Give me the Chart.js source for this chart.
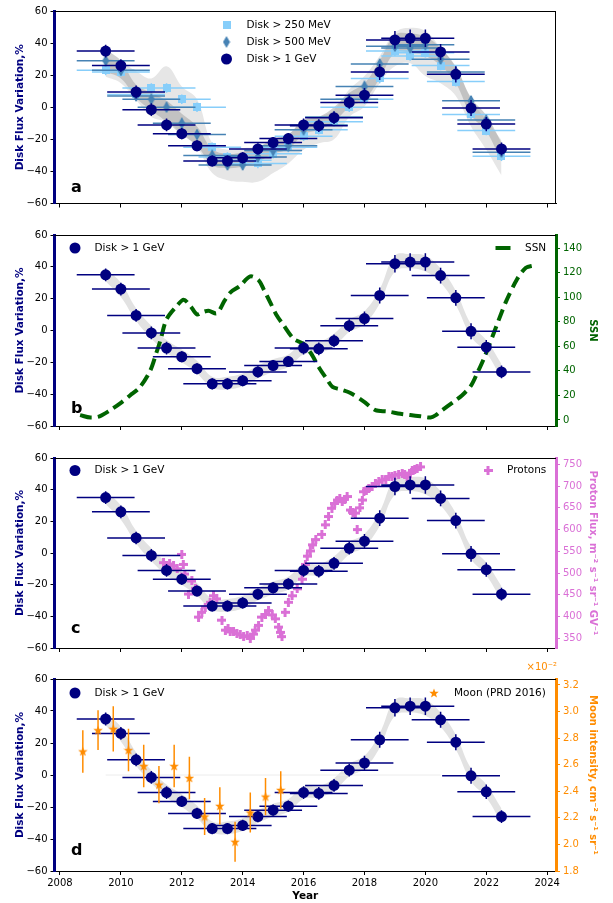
<!DOCTYPE html>
<html>
<head>
<meta charset="utf-8">
<script src="https://cdn.jsdelivr.net/npm/chart.js@4.4.0/dist/chart.umd.min.js"></script>
<style>
  html, body { margin: 0; padding: 0; background: #fff; }
  #wrap { position: relative; width: 613px; height: 903px; }
  canvas { position: absolute; left: 0; }
</style>
</head>
<body>
<div id="wrap">
  <canvas id="chartA" width="613" height="226" style="top:0px"></canvas>
  <canvas id="chartB" width="613" height="223" style="top:226px"></canvas>
  <canvas id="chartC" width="613" height="211" style="top:449px"></canvas>
  <canvas id="chartD" width="613" height="243" style="top:660px"></canvas>
</div>
<script>
// half-year bins, disk flux variation in %
var years = [2009.5, 2010, 2010.5, 2011, 2011.5, 2012, 2012.5, 2013, 2013.5, 2014, 2014.5, 2015, 2015.5, 2016, 2016.5, 2017, 2017.5, 2018, 2018.5, 2019, 2019.5, 2020, 2020.5, 2021, 2021.5, 2022, 2022.5];
var disk1GeV = [35, 26, 9.5, -1.5, -11, -16.5, -24, -33.5, -33.5, -31.5, -26, -22, -19.5, -11, -11.5, -6.5, 3, 7.5, 22, 42, 43, 43, 34.5, 20.5, -0.5, -10.5, -26];
var disk1GeVErr = [4, 4, 4, 4, 4, 3.5, 3.5, 3.5, 3.5, 3.5, 3.5, 3.5, 3.5, 4, 4, 4, 4, 4.5, 5, 5.5, 5.5, 5.5, 5, 5, 5, 4.5, 4];
var disk500MeV = [29, 23, 7, 5, 0, -10, -17, -30, -36, -36, -31, -27, -24, -14, -11, -6, 5, 13, 27, 38, 37, 39, 30, 22, 4, -8, -28];
var disk250MeV = [23, 22, 8, 12, 12, 5, 0, -25, -31, -33, -35, -29, -25, -18, -14, -9, 0, 5, 18, 35, 32, 34, 26, 16, -4.5, -14.5, -30.5];
var diskLowErr = [3, 3, 3, 3, 3, 3, 3, 3, 3, 3, 3, 3, 3, 3, 3, 3, 3, 3, 3, 3, 3, 3, 3, 3, 3, 3, 3];
var binHalfWidth = 0.95;

// shaded model bands
var bandALightLow = [19, 15, 4.5, -6, -9, -16, -25, -41, -45.5, -46.5, -46.5, -41, -35, -26.5, -22.5, -20, -6, 0.5, 15, 25.5, 27.5, 19.5, 15, 7, -12, -26.5, -42.5];
var bandALightHigh = [31, 28, 22.5, 18, 25.5, 13, 5, -22.5, -26.5, -25.5, -24.5, -20.5, -17, -8, -6, -1.5, 11, 19.5, 32, 46.5, 49.5, 47.5, 37, 25.5, 5, -8, -20.5];
var bandADarkLow = [22, 18, 6, -2, -9, -17, -24, -36, -38, -37, -34, -29, -26, -17, -14, -9, 0, 5, 18, 34, 34, 32, 26, 15, -5, -15, -34];
var bandADarkHigh = [36, 29, 14, 9, 4, -4, -12, -26, -29, -28, -25, -20, -17, -8, -6, 0, 9, 15, 29, 45, 46, 44, 37, 25, 6, -5, -22];
var bandLow = [31, 21, 6, -5, -14, -20, -27, -36, -37, -35, -30, -26, -23, -15, -14, -10, -1, 4, 17, 37, 39, 37, 30, 16, -4, -14, -30];
var bandHigh = [39, 30, 14, 3, -6, -12, -19, -29, -29, -27, -22, -18, -15, -7, -7, -2, 7, 12, 26, 47, 48, 47, 39, 25, 4, -6, -21];

// sunspot number
var ssnYears = [2008.66, 2009.0, 2009.3, 2009.65, 2010.0, 2010.3, 2010.6, 2010.96, 2011.17, 2011.3, 2011.5, 2011.84, 2012.06, 2012.28, 2012.5, 2012.7, 2012.88, 2013.15, 2013.4, 2013.6, 2013.9, 2014.25, 2014.52, 2014.7, 2014.9, 2015.1, 2015.35, 2015.68, 2016.0, 2016.25, 2016.5, 2016.77, 2016.95, 2017.2, 2017.54, 2017.98, 2018.36, 2018.75, 2019.18, 2019.5, 2019.84, 2020.17, 2020.35, 2020.5, 2020.94, 2021.2, 2021.5, 2021.7, 2021.92, 2022.25, 2022.64, 2023.02, 2023.3, 2023.57];
var ssnValues = [4, 2, 3, 8, 14, 20, 26, 40, 55, 65, 82, 93, 98, 93, 86, 88, 89, 87, 97, 104, 109, 117, 114, 106, 96, 86, 77, 66, 62, 54, 43, 33, 27, 25, 22, 15, 8, 7, 5, 4, 3, 2, 4, 7, 15, 20, 28, 38, 50, 71, 96, 115, 124, 126];

// proton flux, m^-2 s^-1 sr^-1 GV^-1
var protonYears = [2011.4, 2011.5, 2011.6, 2011.73, 2011.85, 2012.0, 2012.05, 2012.1, 2012.22, 2012.33, 2012.45, 2012.55, 2012.66, 2012.77, 2012.93, 2013.04, 2013.15, 2013.32, 2013.43, 2013.52, 2013.59, 2013.7, 2013.81, 2013.92, 2014.03, 2014.15, 2014.25, 2014.35, 2014.41, 2014.52, 2014.63, 2014.75, 2014.85, 2014.97, 2015.07, 2015.18, 2015.24, 2015.29, 2015.39, 2015.5, 2015.62, 2015.79, 2015.95, 2016.06, 2016.12, 2016.22, 2016.3, 2016.4, 2016.6, 2016.71, 2016.82, 2016.93, 2017.02, 2017.1, 2017.19, 2017.27, 2017.35, 2017.43, 2017.54, 2017.62, 2017.7, 2017.76, 2017.85, 2017.93, 2017.98, 2018.06, 2018.14, 2018.25, 2018.36, 2018.47, 2018.58, 2018.7, 2018.8, 2018.9, 2019.0, 2019.12, 2019.24, 2019.32, 2019.4, 2019.5, 2019.57, 2019.65, 2019.73, 2019.84];
var protonFlux = [524, 517, 521, 517, 510, 543, 520, 498, 452, 482, 465, 399, 410, 422, 433, 448, 441, 392, 369, 372, 365, 367, 361, 358, 354, 356, 350, 360, 369, 380, 399, 405, 414, 404, 395, 376, 364, 354, 410, 433, 448, 464, 486, 520, 539, 551, 565, 577, 589, 611, 630, 649, 660, 668, 672, 664, 670, 676, 645, 640, 638, 600, 650, 668, 687, 690, 695, 700, 706, 710, 714, 716, 721, 722, 725, 727, 729, 726, 721, 730, 736, 738, 740, 744];

// Moon (PRD 2016), x 1e-2 cm^-2 s^-1 sr^-1
var moonYears = [2008.75, 2009.25, 2009.75, 2010.25, 2010.75, 2011.25, 2011.75, 2012.25, 2012.75, 2013.25, 2013.75, 2014.25, 2014.75, 2015.25];
var moonIntensity = [2.70, 2.86, 2.87, 2.71, 2.59, 2.45, 2.59, 2.50, 2.21, 2.29, 2.02, 2.24, 2.36, 2.41];
var moonErr = [0.16, 0.15, 0.17, 0.16, 0.16, 0.14, 0.16, 0.16, 0.14, 0.14, 0.15, 0.15, 0.14, 0.14];

var xTicks = [2008, 2010, 2012, 2014, 2016, 2018, 2020, 2022, 2024];
var diskTicks = [-60, -40, -20, 0, 20, 40, 60];
var ssnTicks = [0, 20, 40, 60, 80, 100, 120, 140];
var protonTicks = [350, 400, 450, 500, 550, 600, 650, 700, 750];
var moonTicks = [1.8, 2.0, 2.2, 2.4, 2.6, 2.8, 3.0, 3.2];

var navy = '#000080';
var steel = '#4682B4';
var skyblue = '#87CEFA';
var green = '#006400';
var orchid = '#DA70D6';
var orange = '#FF8C00';

Chart.defaults.font.family = "'DejaVu Sans', sans-serif";
Chart.defaults.font.size = 10;
Chart.defaults.color = '#000';

// marker images
function markerCanvas(w, h, draw) {
    var c = document.createElement('canvas');
    c.width = w;
    c.height = h;
    draw(c.getContext('2d'), w, h);
    return c;
}
var squareImg = markerCanvas(8, 8, function (g, w, h) {
    g.fillStyle = skyblue;
    g.fillRect(0, 0, w, h);
});
var diamondImg = markerCanvas(8, 12, function (g, w, h) {
    g.fillStyle = steel;
    g.beginPath();
    g.moveTo(w / 2, 0); g.lineTo(w - 0.5, h / 2); g.lineTo(w / 2, h); g.lineTo(0.5, h / 2);
    g.closePath();
    g.fill();
});
var plusImg = markerCanvas(9, 9, function (g, w, h) {
    g.fillStyle = orchid;
    g.fillRect(3, 0, 3, 9);
    g.fillRect(0, 3, 9, 3);
});
var starImg = markerCanvas(10, 10, function (g, w, h) {
    g.fillStyle = orange;
    g.beginPath();
    for (var i = 0; i < 10; i++) {
        var r = i % 2 === 0 ? 5 : 2.1;
        var a = -Math.PI / 2 + i * Math.PI / 5;
        g.lineTo(5 + r * Math.cos(a), 5.4 + r * Math.sin(a));
    }
    g.closePath();
    g.fill();
});

function pts(xs, ys) {
    return xs.map(function (x, i) { return { x: x, y: ys[i] }; });
}
function hBars(xs, ys, half) {
    var out = [];
    for (var i = 0; i < xs.length; i++) {
        out.push({ x: xs[i] - half, y: ys[i] }, { x: xs[i] + half, y: ys[i] }, { x: xs[i], y: null });
    }
    return out;
}
function vBars(xs, ys, errs) {
    var out = [];
    for (var i = 0; i < xs.length; i++) {
        out.push({ x: xs[i], y: ys[i] - errs[i] }, { x: xs[i], y: ys[i] + errs[i] }, { x: xs[i], y: null });
    }
    return out;
}
function fixTicks(list) {
    return function (scale) {
        scale.ticks = list.map(function (v) { return { value: v }; });
    };
}
function minusFmt(v) {
    return v < 0 ? '\u2212' + Math.abs(v) : String(v);
}

function barSet(data, color, order, axis) {
    return { data: data, borderColor: color, borderWidth: 1.5, pointRadius: 0, showLine: true, spanGaps: false, tension: 0, fill: false, order: order, yAxisID: axis || 'y' };
}
function markerSet(data, style, order, radius, axis) {
    return { data: data, showLine: false, pointStyle: style, pointRadius: radius || 5, pointBackgroundColor: navy, pointBorderColor: navy, pointBorderWidth: 0, order: order, yAxisID: axis || 'y' };
}
function bandSets(low, high, color, order) {
    return [
        { data: pts(years, high), borderWidth: 0, pointRadius: 0, tension: 0.4, fill: { target: '+1' }, backgroundColor: color, order: order },
        { data: pts(years, low), borderWidth: 0, pointRadius: 0, tension: 0.4, fill: false, order: order }
    ];
}
function diskSets() {
    return [
        barSet(hBars(years, disk1GeV, binHalfWidth), navy, 3),
        barSet(vBars(years, disk1GeV, disk1GeVErr), navy, 3),
        markerSet(pts(years, disk1GeV), 'circle', 1, 5.5)
    ];
}

function xScale(showLabels, h) {
    return {
        type: 'linear', min: 2007.82, max: 2024.29,
        afterBuildTicks: fixTicks(xTicks),
        afterFit: function (s) { s.height = h; },
        grid: { drawOnChartArea: false, tickLength: 4, tickColor: '#000', lineWidth: 1 },
        border: { display: true, color: '#000', width: 1 },
        ticks: { display: showLabels, padding: 2, maxRotation: 0, autoSkip: false, font: { size: 10 }, callback: function (v) { return String(v); } },
        title: { display: showLabels, text: 'Year', font: { size: 10.5, weight: 'bold' }, padding: { top: 0, bottom: 0 } }
    };
}
function leftScale() {
    return {
        position: 'left', min: -60, max: 60,
        afterBuildTicks: fixTicks(diskTicks),
        afterFit: function (s) { s.width = 54.5; },
        grid: { drawOnChartArea: false, tickLength: 4, tickColor: '#000', lineWidth: 1 },
        border: { display: true, color: navy, width: 3 },
        ticks: { padding: 3, font: { size: 10 }, callback: minusFmt },
        title: { display: true, text: 'Disk Flux Variation,%', color: navy, font: { size: 10.5, weight: 'bold' }, padding: { top: 13.5 } }
    };
}
function rightScale(min, max, list, color, title, fmt) {
    return {
        position: 'right', min: min, max: max,
        afterBuildTicks: fixTicks(list),
        afterFit: function (s) { s.width = 57; },
        grid: { drawOnChartArea: false, tickLength: 4, tickColor: color, lineWidth: 1 },
        border: { display: true, color: color, width: 3 },
        ticks: { color: color, padding: 3, font: { size: 10 }, callback: fmt },
        title: { display: true, text: title, color: color, font: { size: 10, weight: 'bold' }, padding: { top: 14.5 } }
    };
}

// frame, panel letter and legends
function decor(cfg) {
    return {
        id: 'decor',
        afterDatasetsDraw: function (chart) {
            var ctx = chart.ctx;
            var a = chart.chartArea;
            ctx.save();
            ctx.strokeStyle = '#000';
            ctx.lineWidth = 1;
            ctx.beginPath();
            ctx.moveTo(a.left, a.top + 0.5);
            ctx.lineTo(a.right, a.top + 0.5);
            if (!cfg.rightSpine) {
                ctx.moveTo(a.right - 0.5, a.top);
                ctx.lineTo(a.right - 0.5, a.bottom);
            }
            ctx.stroke();

            ctx.fillStyle = '#000';
            ctx.font = "bold 16px 'DejaVu Sans'";
            ctx.textAlign = 'left';
            ctx.textBaseline = 'alphabetic';
            ctx.fillText(cfg.letter, 71, cfg.letterY - cfg.top);

            ctx.font = "10.5px 'DejaVu Sans'";
            ctx.textBaseline = 'middle';
            cfg.legend.forEach(function (it) {
                var y = it.y - cfg.top;
                if (it.kind === 'circle') {
                    ctx.fillStyle = navy;
                    ctx.beginPath();
                    ctx.arc(it.x, y, 5.5, 0, Math.PI * 2);
                    ctx.fill();
                } else if (it.kind === 'dash') {
                    ctx.strokeStyle = green;
                    ctx.lineWidth = 4;
                    ctx.beginPath();
                    ctx.moveTo(it.x - 7.5, y);
                    ctx.lineTo(it.x + 7.5, y);
                    ctx.stroke();
                } else {
                    ctx.drawImage(it.img, it.x - it.img.width / 2, y - it.img.height / 2);
                }
                ctx.fillStyle = '#000';
                ctx.fillText(it.text, it.tx, y);
            });
            if (cfg.offsetText) {
                ctx.fillStyle = orange;
                ctx.font = "10px 'DejaVu Sans'";
                ctx.textAlign = 'right';
                ctx.fillText(cfg.offsetText, 557, 667 - cfg.top);
            }
            ctx.restore();
        }
    };
}

function makeChart(id, padTop, xHeight, showX, right, datasets, cfg) {
    var scales = { x: xScale(showX, xHeight), y: leftScale() };
    if (right) scales.y2 = right;
    return new Chart(document.getElementById(id), {
        type: 'line',
        data: { datasets: datasets },
        options: {
            responsive: false,
            animation: false,
            events: [],
            layout: { padding: { top: padTop, right: right ? 0 : 57, left: 0, bottom: 0 } },
            plugins: { legend: { display: false }, tooltip: { enabled: false } },
            scales: scales
        },
        plugins: [decor(cfg)]
    });
}

function buildPanelA() {
    var sets = [].concat(
        diskSets(),
        [
            barSet(hBars(years, disk500MeV, binHalfWidth), steel, 5),
            barSet(vBars(years, disk500MeV, diskLowErr), steel, 5),
            markerSet(pts(years, disk500MeV), diamondImg, 4),
            barSet(hBars(years, disk250MeV, binHalfWidth), skyblue, 7),
            barSet(vBars(years, disk250MeV, diskLowErr), skyblue, 7),
            markerSet(pts(years, disk250MeV), squareImg, 6)
        ],
        bandSets(bandADarkLow, bandADarkHigh, 'rgba(150,150,150,0.45)', 11),
        bandSets(bandALightLow, bandALightHigh, '#e6e6e6', 12)
    );
    makeChart('chartA', 11, 22.5, false, null, sets, {
        top: 0, letter: 'a', letterY: 192, rightSpine: false,
        legend: [
            { kind: 'img', img: squareImg, x: 226.5, y: 25, tx: 246.5, text: 'Disk > 250 MeV' },
            { kind: 'img', img: diamondImg, x: 226.5, y: 42, tx: 246.5, text: 'Disk > 500 MeV' },
            { kind: 'circle', x: 226.5, y: 59, tx: 246.5, text: 'Disk > 1 GeV' }
        ]
    });
}

function buildPanelB() {
    var sets = [].concat(
        diskSets(),
        [{ data: pts(ssnYears, ssnValues), yAxisID: 'y2', borderColor: green, borderWidth: 4, borderDash: [12, 6], pointRadius: 0, tension: 0.3, fill: false, order: 5 }],
        bandSets(bandLow, bandHigh, '#e2e2e2', 12)
    );
    makeChart('chartB', 8, 23, false, rightScale(-4.9, 150.7, ssnTicks, green, 'SSN', function (v) { return String(v); }), sets, {
        top: 226, letter: 'b', letterY: 413, rightSpine: true,
        legend: [
            { kind: 'circle', x: 75, y: 248, tx: 94.5, text: 'Disk > 1 GeV' },
            { kind: 'dash', x: 503, y: 248, tx: 525, text: 'SSN' }
        ]
    });
}

function buildPanelC() {
    var sets = [].concat(
        diskSets(),
        [markerSet(pts(protonYears, protonFlux), plusImg, 5, 4.5, 'y2')],
        bandSets(bandLow, bandHigh, '#e2e2e2', 12)
    );
    makeChart('chartC', 7, 12, false, rightScale(328, 764.5, protonTicks, orchid, 'Proton Flux, m\u207B\u00B2 s\u207B\u00B9 sr\u207B\u00B9 GV\u207B\u00B9', function (v) { return String(v); }), sets, {
        top: 449, letter: 'c', letterY: 633, rightSpine: true,
        legend: [
            { kind: 'circle', x: 75, y: 470.5, tx: 94.5, text: 'Disk > 1 GeV' },
            { kind: 'img', img: plusImg, x: 488, y: 470.5, tx: 507, text: 'Protons' }
        ]
    });
}

function buildPanelD() {
    var zeroLine = { data: [{ x: years[0], y: 0 }, { x: years[22], y: 0 }], borderColor: '#ececec', borderWidth: 1, pointRadius: 0, fill: false, order: 11 };
    var sets = [].concat(
        [
            markerSet(pts(moonYears, moonIntensity), starImg, 0, 4.5, 'y2'),
            barSet(vBars(moonYears, moonIntensity, moonErr), orange, 0.5, 'y2')
        ],
        diskSets(),
        [zeroLine],
        bandSets(bandLow, bandHigh, '#e2e2e2', 12)
    );
    makeChart('chartD', 19, 32, true, rightScale(1.8, 3.245, moonTicks, orange, 'Moon intensity, cm\u207B\u00B2 s\u207B\u00B9 sr\u207B\u00B9', function (v) { return v.toFixed(1); }), sets, {
        top: 660, letter: 'd', letterY: 855, rightSpine: true, offsetText: '\u00D710\u207B\u00B2',
        legend: [
            { kind: 'circle', x: 75, y: 693, tx: 94.5, text: 'Disk > 1 GeV' },
            { kind: 'img', img: starImg, x: 434, y: 693, tx: 454, text: 'Moon (PRD 2016)' }
        ]
    });
}

buildPanelA();
buildPanelB();
buildPanelC();
buildPanelD();
</script>
</body>
</html>
